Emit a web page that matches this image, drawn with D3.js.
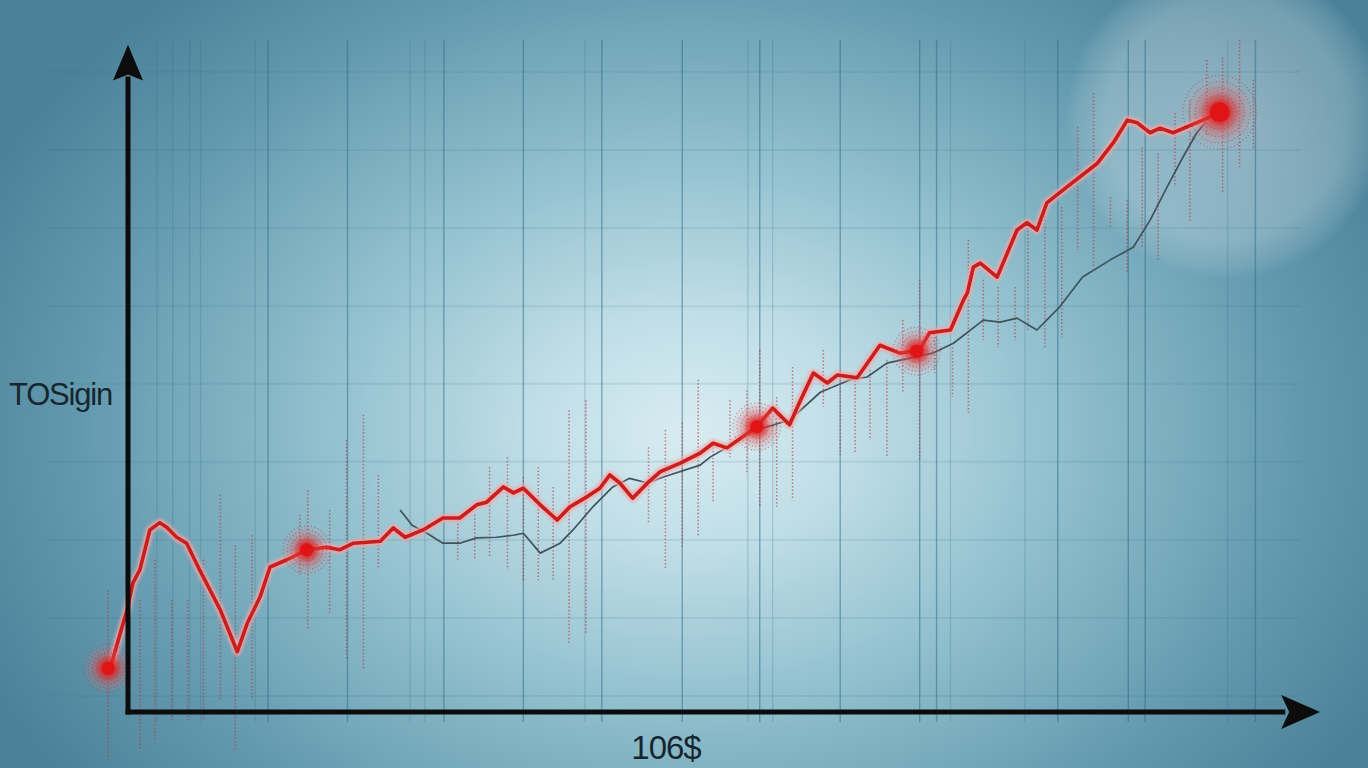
<!DOCTYPE html>
<html><head><meta charset="utf-8">
<script src="https://cdn.jsdelivr.net/npm/d3@7"></script>
<style>html,body{margin:0;padding:0;overflow:hidden;background:#5b93a8}</style>
</head><body>
<svg id="chart" width="1368" height="768"></svg>
<script>
// ---------- DATA ----------
const redX = [-1.8,-0.1,0.5,1.2,2.2,3.2,3.9,4.9,5.9,7.2,9.3,11.0,12.0,13.3,14.3,16.0,18.0,20.0,21.3,22.7,25.4,26.7,27.9,29.7,31.7,33.4,35.1,36.1,37.8,38.8,39.8,41.5,43.2,44.5,46.2,47.5,48.5,49.5,50.8,52.3,53.6,55.6,57.6,58.9,60.3,63.3,64.9,66.6,67.7,69.0,70.4,71.4,73.4,75.7,77.7,79.7,80.7,82.8,84.1,84.5,85.1,85.8,87.5,89.5,90.5,91.5,92.5,94.5,97.6,99.2,100.6,101.6,102.9,103.9,105.2,108.2,109.9];
const redY = [6.6,15.4,19.5,21.5,27.5,28.6,27.9,26.4,25.5,21.5,15.4,9.1,13.4,17.4,21.9,23.0,24.5,24.9,24.5,25.5,25.8,27.8,26.4,27.5,29.3,29.3,31.3,31.7,34.0,33.1,33.8,31.3,29.0,31.0,32.5,33.8,35.8,34.6,32.3,34.6,36.3,37.6,39.1,40.6,39.9,43.1,45.9,43.4,47.1,51.2,49.7,50.9,50.5,55.4,54.2,54.7,57.3,57.7,62.2,63.3,67.2,67.8,65.7,72.8,73.9,72.8,76.9,79.3,82.9,86.0,89.4,89.0,87.5,88.2,87.5,89.4,90.6];

const grayX = [27.4,28.6,30.1,31.7,33.4,35.1,37.1,38.8,39.8,41.5,43.5,44.8,46.8,48.8,50.5,52.3,53.9,57.6,58.6,61.6,63.3,66.6,69.7,72.7,74.4,76.4,81.0,83.1,86.1,87.8,89.5,91.5,93.8,96.1,98.9,101.2,102.9,104.6,106.2,107.6,109.1];
const grayY = [30.5,28.2,27.0,25.5,25.5,26.3,26.4,26.7,27.0,24.0,25.5,27.5,31.0,34.0,35.3,34.6,35.5,37.3,38.5,41.1,42.6,44.1,48.3,50.2,50.6,52.7,54.2,55.7,59.2,58.9,59.5,57.7,61.2,65.7,68.3,70.2,74.3,79.3,83.8,87.5,90.2];

const markerX = [-2.0,18.0,63.3,79.4,109.9];
const markerY = [6.6,24.5,43.1,54.5,90.6];
const markerBig = [false,false,false,false,true];

const whiskerX  = [-2.0,1.2,2.7,4.4,6.0,7.6,9.3,10.8,12.5,17.3,18.1,20.3,22.0,23.7,25.2,33.2,34.9,36.4,38.2,39.8,41.3,42.8,44.4,46.1,52.4,54.1,55.8,57.4,58.9,60.6,62.3,63.6,65.3,66.9,70.0,71.7,73.2,74.7,76.4,78.0,79.7,81.2,83.0,84.6,86.1,87.6,89.3,90.6,92.3,94.0,95.6,97.2,98.9,100.6,102.1,103.7,105.4,106.9,108.6,110.2,111.9,113.3];
const whiskerLo = [-7.3,-5.7,-4.2,-1.2,-1.2,-1.2,1.8,-5.7,1.8,20.7,12.4,14.7,7.9,6.3,21.5,23.0,23.0,23.4,21.5,19.9,19.9,19.9,10.4,11.9,28.5,21.5,24.9,26.4,31.6,38.5,36.1,31.0,31.0,32.0,46.1,38.5,39.1,41.1,38.5,48.2,38.1,51.2,47.6,45.2,56.2,55.1,56.2,57.7,55.1,56.6,69.8,67.2,73.3,66.3,70.2,68.3,79.3,73.9,86.9,78.4,82.3,84.9];
const whiskerHi = [18.4,16.9,23.0,16.9,16.9,23.0,32.8,25.2,26.7,29.8,33.5,30.5,41.1,44.9,35.8,29.0,29.8,37.0,38.5,35.5,37.0,34.0,45.6,47.1,40.0,42.6,43.7,50.2,40.0,47.1,48.6,54.7,47.6,52.1,54.7,51.7,50.6,51.7,53.2,59.2,65.3,57.7,55.1,71.3,65.3,64.2,64.2,74.3,75.4,76.3,88.4,93.5,77.8,77.3,85.3,84.4,90.5,92.4,98.5,98.9,101.5,95.5];

const gridXStrong = [14.1,22.1,31.8,39.8,47.7,55.8,63.6,71.7,79.7,81.4,93.6,100.7,102.4,113.5];
const gridXFaint  = [2.9,4.5,6.2,7.3,12.8,28.4,29.9,46.0,62.4,64.9,82.8,90.3,110.7];
const gridY = [2.4,14.2,26.0,37.8,49.6,61.3,73.1,84.9,96.7];

const yLabel = "TOSigin";
const xLabel = "106$";

// ---------- SCALES ----------
const W = 1368, H = 768;
const x = d3.scaleLinear().domain([0,120]).range([128,1320]);
const y = d3.scaleLinear().domain([0,100]).range([712,50]);

const svg = d3.select("#chart");
const defs = svg.append("defs");

const bg = defs.append("radialGradient").attr("id","bg")
  .attr("gradientUnits","userSpaceOnUse")
  .attr("cx",690).attr("cy",430).attr("r",780)
  .attr("gradientTransform","translate(690,430) scale(1,0.75) translate(-690,-430)");
[[0,"#d8ecf1"],[0.2,"#c0dee7"],[0.48,"#90bfcd"],[0.78,"#6399ae"],[1,"#4b8299"]]
  .forEach(([o,c])=>bg.append("stop").attr("offset",o).attr("stop-color",c));

const glow = defs.append("radialGradient").attr("id","glow");
[[0,0.34],[0.75,0.24],[0.92,0.1],[1,0]].forEach(([o,a])=>glow.append("stop").attr("offset",o).attr("stop-color","#ffffff").attr("stop-opacity",a));

const halo = defs.append("radialGradient").attr("id","halo");
[[0,"#d81818",1],[0.3,"#e02424",0.8],[0.55,"#e84848",0.4],[0.8,"#ec7070",0.15],[1,"#f08080",0]]
  .forEach(([o,c,a])=>halo.append("stop").attr("offset",o).attr("stop-color",c).attr("stop-opacity",a));

defs.append("filter").attr("id","blur").append("feGaussianBlur").attr("stdDeviation",1.6);
defs.append("filter").attr("id","soft").append("feGaussianBlur").attr("stdDeviation",0.6);

svg.append("rect").attr("width",W).attr("height",H).attr("fill","url(#bg)");
svg.append("circle").attr("cx",x(110.5)).attr("cy",y(89.5)).attr("r",160).attr("fill","url(#glow)");

// grid
const g = svg.append("g");
g.selectAll(".hy").data(gridY).join("line")
  .attr("x1",x(-8)).attr("x2",x(118)).attr("y1",d=>y(d)).attr("y2",d=>y(d))
  .attr("stroke","#2f6b84").attr("stroke-opacity",0.12).attr("stroke-width",2);
g.selectAll(".vf").data(gridXFaint).join("line")
  .attr("x1",d=>x(d)).attr("x2",d=>x(d)).attr("y1",y(101.5)).attr("y2",y(-1.5))
  .attr("stroke","#2f6b84").attr("stroke-opacity",0.22).attr("stroke-width",1.3);
g.selectAll(".vs").data(gridXStrong).join("line")
  .attr("x1",d=>x(d)).attr("x2",d=>x(d)).attr("y1",y(101.5)).attr("y2",y(-1.5))
  .attr("stroke","#2c6a84").attr("stroke-opacity",0.5).attr("stroke-width",1.4);

// whiskers
const wk = whiskerX.map((v,i)=>({x:v,lo:whiskerLo[i],hi:whiskerHi[i]}));
svg.append("g").selectAll("line").data(wk).join("line")
  .attr("x1",d=>x(d.x)).attr("x2",d=>x(d.x)).attr("y1",d=>y(d.hi)).attr("y2",d=>y(d.lo))
  .attr("stroke","#b8303c").attr("stroke-opacity",0.6).attr("stroke-width",1.5)
  .attr("stroke-dasharray","1.5,2");

const line = d3.line().x(d=>x(d[0])).y(d=>y(d[1]));

// gray line
const grayData = grayX.map((v,i)=>[v,grayY[i]]);
svg.append("path").attr("d",line(grayData)).attr("fill","none")
  .attr("stroke","#3f535c").attr("stroke-width",1.7).attr("stroke-linejoin","round").attr("filter","url(#soft)");

// red line
const redData = redX.map((v,i)=>[v,redY[i]]);
svg.append("path").attr("d",line(redData)).attr("fill","none")
  .attr("stroke","#f4a4a4").attr("stroke-opacity",0.85).attr("stroke-width",8).attr("stroke-linejoin","round").attr("filter","url(#blur)");
svg.append("path").attr("d",line(redData)).attr("fill","none")
  .attr("stroke","#c81e1e").attr("stroke-width",3.6).attr("stroke-linejoin","round");

// markers
const mk = markerX.map((v,i)=>({x:v,y:markerY[i],big:markerBig[i]}));
const mg = svg.append("g").selectAll("g").data(mk).join("g")
  .attr("transform",d=>`translate(${x(d.x)},${y(d.y)})`);
mg.append("circle").attr("r",d=>d.big?36:25).attr("fill","url(#halo)");
[0.5,0.72,0.9,1.08].forEach(k=>{
  mg.append("circle").attr("r",d=>(d.big?34:22)*k).attr("fill","none")
    .attr("stroke","#cc2a38").attr("stroke-opacity",0.5).attr("stroke-width",1.3)
    .attr("stroke-dasharray","1,2.5");
});
mg.append("circle").attr("r",d=>d.big?10:6.5).attr("fill","#e01414");

// axes with arrowheads
const ax = svg.append("g");
ax.append("line").attr("x1",x(0)).attr("x2",x(0)).attr("y1",y(0)+2.5).attr("y2",y(96))
  .attr("stroke","#0c0c0c").attr("stroke-width",5);
ax.append("line").attr("x1",x(0)-2.5).attr("x2",x(116.5)).attr("y1",y(0)).attr("y2",y(0))
  .attr("stroke","#0c0c0c").attr("stroke-width",5);
const yt = y(100.8), yb = y(96);
ax.append("path").attr("d",`M${x(0)},${yt} L${x(0)+15},${yb+4} L${x(0)},${yb-2} L${x(0)-15},${yb+4} Z`).attr("fill","#0c0c0c");
const xt = x(120), xb = x(116.5);
ax.append("path").attr("d",`M${xt},${y(0)} L${xb-4},${y(0)-17} L${xb+4},${y(0)} L${xb-4},${y(0)+17} Z`).attr("fill","#0c0c0c");

// labels
svg.append("text").attr("x",112).attr("y",405).attr("text-anchor","end")
  .attr("font-family","Liberation Sans, Arial, sans-serif").attr("font-size",31)
  .attr("fill","#17262e").attr("letter-spacing",-1.2).text(yLabel);
svg.append("text").attr("x",666).attr("y",759).attr("text-anchor","middle")
  .attr("font-family","Liberation Sans, Arial, sans-serif").attr("font-size",33)
  .attr("fill","#17262e").attr("letter-spacing",-1).text(xLabel);
</script>
</body></html>
